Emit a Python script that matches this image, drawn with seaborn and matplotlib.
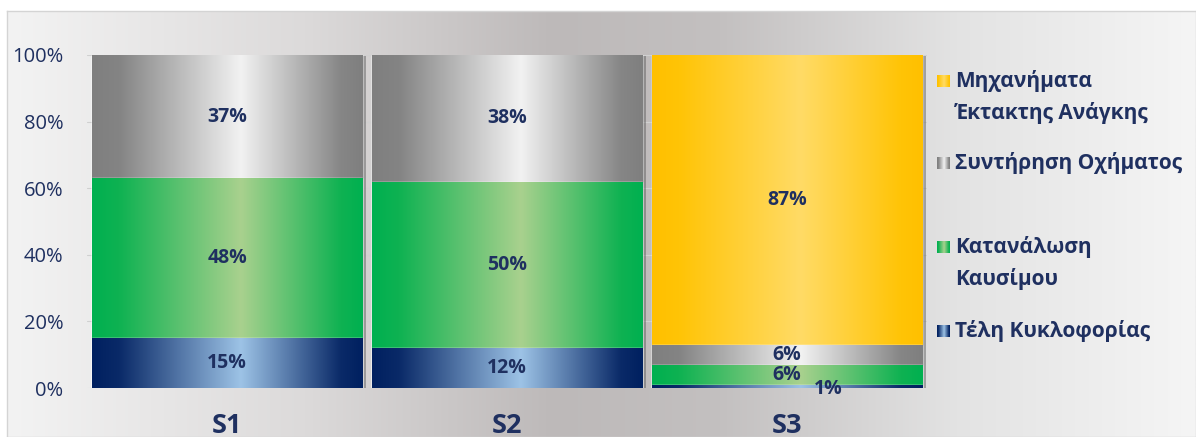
import numpy as np
import pandas as pd
import matplotlib
matplotlib.use("Agg")
import matplotlib.pyplot as plt
import seaborn as sns
from matplotlib.colors import LinearSegmentedColormap
from matplotlib import patheffects as pe

# ---------------- data ----------------
categories = ["S1", "S2", "S3"]
tele = [15, 12, 1]            # Τέλη Κυκλοφορίας
katanalosi = [48, 50, 6]      # Κατανάλωση Καυσίμου
syntirisi = [37, 38, 6]       # Συντήρηση Οχήματος
michanimata = [0, 0, 87]      # Μηχανήματα Έκτακτης Ανάγκης
series_values = [tele, katanalosi, syntirisi, michanimata]
series_names = ["Τέλη Κυκλοφορίας", "Κατανάλωση\nΚαυσίμου",
                "Συντήρηση Οχήματος", "Μηχανήματα\nΈκτακτης Ανάγκης"]
yticks = [0, 20, 40, 60, 80, 100]
ytick_labels = ["0%", "20%", "40%", "60%", "80%", "100%"]

# ---------------- style ----------------
sns.set_theme(style="white")
plt.rcParams["font.family"] = ["Open Sans", "DejaVu Sans"]
NAVY_TXT = "#1f3060"

grads = [
    ["#002060", "#0a2a68", "#9dc3e6", "#0a2a68", "#002060"],
    ["#00b050", "#0fb252", "#a9d18e", "#0fb252", "#00b050"],
    ["#7f7f7f", "#848484", "#f2f2f2", "#868686", "#7f7f7f"],
    ["#ffc000", "#ffc406", "#ffdb66", "#ffc406", "#ffc000"],
]
stops = [0.0, 0.1, 0.55, 0.92, 1.0]
cmaps = [LinearSegmentedColormap.from_list(f"g{i}", list(zip(stops, g)))
         for i, g in enumerate(grads)]

W, H = 1196, 437
fig = plt.figure(figsize=(W / 100, H / 100), dpi=100)
fig.patch.set_facecolor("white")

# background panel with horizontal gradient
bg = fig.add_axes([7 / W, 0, 1 - 7 / W, (H - 11) / H], zorder=-10)
bg_cmap = LinearSegmentedColormap.from_list(
    "bg", [(0, "#f3f3f3"), (0.25, "#dcdada"), (0.46, "#bdb9b9"),
           (0.6, "#c3c0c0"), (0.8, "#e3e3e3"), (1, "#f5f5f5")])
bg.imshow(np.linspace(0, 1, 512).reshape(1, -1), cmap=bg_cmap, aspect="auto",
          extent=[0, 1, 0, 1], interpolation="bicubic")
bg.set_xticks([]); bg.set_yticks([])
for s in bg.spines.values():
    s.set_color("#d4d4d4"); s.set_linewidth(1.0)

ax = fig.add_axes([87 / W, 49 / H, 840 / W, 333 / H])
ax.patch.set_alpha(0)

# cumulative stacking: draw tallest (top series) first
cum = np.cumsum(np.array(series_values), axis=0)  # shape (4, 3)
z = 2
for si in range(len(series_values) - 1, -1, -1):
    n_before = len(ax.patches)
    sns.barplot(x=categories, y=cum[si], color=grads[si][0], saturation=1,
                width=0.965, ax=ax, zorder=z)
    new = ax.patches[n_before:]
    for p in new:
        p.set_zorder(z)
        if si == len(series_values) - 1:
            p.set_path_effects([pe.SimplePatchShadow(offset=(3, -1), shadow_rgbFace="#555555", alpha=0.45),
                                pe.Normal()])
        x0, y0, w, h = p.get_x(), p.get_y(), p.get_width(), p.get_height()
        if h > 0:
            im = ax.imshow(np.linspace(0, 1, 256).reshape(1, -1), cmap=cmaps[si],
                           extent=[x0, x0 + w, y0, y0 + h], aspect="auto",
                           interpolation="bicubic", zorder=z + 0.5)
            im.set_clip_path(p)
    z += 1

ax.set_xlim(-0.5, 2.5)
ax.set_ylim(0, 100)
ax.set_aspect("auto")

# grid
ax.set_yticks(yticks)
ax.set_yticklabels(ytick_labels)
ax.yaxis.grid(True, color="#d0d0d0", linewidth=0.8, zorder=0)
ax.set_axisbelow(True)
for s in ax.spines.values():
    s.set_visible(False)
ax.tick_params(axis="y", length=0, pad=17, labelsize=14.5, labelcolor=NAVY_TXT)
ax.tick_params(axis="x", length=0, pad=18, labelsize=19.5, labelcolor=NAVY_TXT)
for t in ax.get_xticklabels():
    t.set_fontweight("bold")
ax.set_xlabel(""); ax.set_ylabel("")

# value labels
for si, vals in enumerate(series_values):
    for ci, v in enumerate(vals):
        if v <= 0:
            continue
        yc = cum[si][ci] - v / 2
        xc = ci
        if v < 3:
            xc, yc = ci + 0.147, -0.3
        ax.text(xc, yc, f"{v}%", ha="center", va="center", fontsize=14,
                fontweight="bold", color=NAVY_TXT, zorder=20)

# legend (manual, right side)
leg_entries = [3, 2, 1, 0]
leg_first_y = [81, 163, 247, 331]
line_gap = 32
for si, y in zip(leg_entries, leg_first_y):
    lax = fig.add_axes([937 / W, 1 - (y + 6) / H, 13 / W, 12 / H])
    lax.imshow(np.linspace(0, 1, 64).reshape(1, -1), cmap=cmaps[si], aspect="auto")
    lax.axis("off")
    for li, line in enumerate(series_names[si].split("\n")):
        fig.text(955 / W, 1 - (y + li * line_gap) / H, line, ha="left", va="center",
                 fontsize=15, fontweight="bold", color=NAVY_TXT)

fig.savefig("out.png", dpi=100)
